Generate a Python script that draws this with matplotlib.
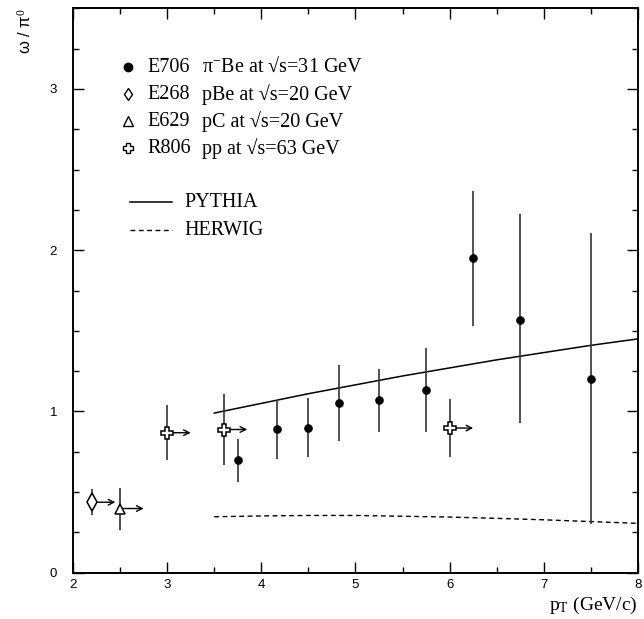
import matplotlib
matplotlib.use("Agg")
from matplotlib import pyplot as plt
from matplotlib.ticker import MultipleLocator

plt.rcParams['mathtext.fontset'] = 'custom'
plt.rcParams['mathtext.rm'] = 'Liberation Serif'
plt.rcParams['mathtext.it'] = 'Liberation Serif:italic'

# E706 pi- Be, sqrt(s)=31 GeV
e706_x = [3.75, 4.17, 4.5, 4.83, 5.25, 5.75, 6.25, 6.75, 7.5]
e706_y = [0.70, 0.89, 0.90, 1.05, 1.07, 1.13, 1.95, 1.57, 1.20]
e706_lo = [0.565, 0.708, 0.717, 0.814, 0.872, 0.872, 1.532, 0.93, 0.305]
e706_hi = [0.829, 1.068, 1.083, 1.288, 1.265, 1.394, 2.364, 2.222, 2.108]

# lower limits in pT (arrows)
e268_x, e268_y, e268_lo, e268_hi = [2.2], [0.437], [0.36], [0.518]
e629_x, e629_y, e629_lo, e629_hi = [2.5], [0.398], [0.267], [0.528]
r806_x = [3.0, 3.6, 6.0]
r806_y = [0.868, 0.888, 0.897]
r806_lo = [0.70, 0.669, 0.72]
r806_hi = [1.037, 1.108, 1.077]
arrow_len = 0.25

# models
pythia_x = [3.5, 4.0, 4.5, 5.0, 5.5, 6.0, 6.5, 7.0, 7.5, 8.0]
pythia_y = [0.99, 1.05, 1.11, 1.165, 1.22, 1.27, 1.32, 1.365, 1.41, 1.45]
herwig_x = [3.5, 4.0, 4.5, 5.0, 5.5, 6.0, 6.5, 7.0, 7.5, 8.0]
herwig_y = [0.347, 0.352, 0.355, 0.355, 0.350, 0.345, 0.337, 0.328, 0.317, 0.306]

fig = plt.figure(figsize=(6.44, 6.19), dpi=100)
ax = fig.add_axes([73/644, 46.3/619, 565/644, 564.4/619])

serif = ['Liberation Serif', 'DejaVu Serif']
sans = ['Liberation Sans', 'DejaVu Sans']
fs = 14.5

# model curves
ax.plot(pythia_x, pythia_y, color='black', lw=1.1)
ax.plot(herwig_x, herwig_y, color='black', lw=1.0, dashes=(3.5, 2.5))


def errs(y, lo, hi):
    return [[a - b for a, b in zip(y, lo)], [c - a for a, c in zip(y, hi)]]


ax.errorbar(e706_x, e706_y, yerr=errs(e706_y, e706_lo, e706_hi), fmt='o',
            color='black', ecolor='#333333', ms=5.2, elinewidth=1.2, capsize=0)

def lim_points(x, y, lo, hi, marker, ms):
    ax.errorbar(x, y, yerr=errs(y, lo, hi), fmt='none', ecolor='#333333',
                elinewidth=1.2, capsize=0, zorder=2)
    for xi, yi in zip(x, y):
        ax.annotate('', xy=(xi + arrow_len, yi), xytext=(xi, yi),
                    arrowprops=dict(arrowstyle='->', color='black', lw=1.0,
                                    shrinkA=0, shrinkB=0), zorder=2)
    ax.plot(x, y, linestyle='none', marker=marker, ms=ms, mfc='white',
            mec='black', mew=1.1, zorder=3)

lim_points(e268_x, e268_y, e268_lo, e268_hi, 'd', 9)
lim_points(e629_x, e629_y, e629_lo, e629_hi, '^', 7)
lim_points(r806_x, r806_y, r806_lo, r806_hi, 'P', 9)

# legend drawn by hand
rows = [('o', 'black', 6, 'E706', 'π$^{-}$Be at √s=31 GeV'),
        ('d', 'white', 6, 'E268', 'pBe at √s=20 GeV'),
        ('^', 'white', 7, 'E629', 'pC at √s=20 GeV'),
        ('P', 'white', 7, 'R806', 'pp at √s=63 GeV')]
row_y = [0.8955, 0.8477, 0.7999, 0.752]
for (m, fc, ms, name, desc), yy in zip(rows, row_y):
    ax.plot([0.097], [yy], marker=m, ms=ms, mfc=fc, mec='black', mew=1.0,
            transform=ax.transAxes, linestyle='none')
    ax.text(0.131, yy, name, transform=ax.transAxes, va='center',
            fontsize=fs, family=serif)
    ax.text(0.228, yy, desc, transform=ax.transAxes, va='center',
            fontsize=fs, family=serif)

ax.plot([0.101, 0.175], [0.656, 0.656], color='black', lw=1.1,
        transform=ax.transAxes)
ax.text(0.198, 0.656, 'PYTHIA', transform=ax.transAxes, va='center',
        fontsize=fs, family=serif)
ax.plot([0.101, 0.175], [0.607, 0.607], color='black', lw=1.0,
        dashes=(3.5, 2.5), transform=ax.transAxes)
ax.text(0.198, 0.607, 'HERWIG', transform=ax.transAxes, va='center',
        fontsize=fs, family=serif)

ax.set_xlim(2, 8)
ax.set_ylim(0, 3.5)
ax.xaxis.set_major_locator(MultipleLocator(1))
ax.xaxis.set_minor_locator(MultipleLocator(0.5))
ax.yaxis.set_major_locator(MultipleLocator(1))
ax.yaxis.set_minor_locator(MultipleLocator(0.25))
ax.tick_params(which='both', direction='in', top=True, right=True, width=1.0)
ax.tick_params(which='major', length=8, labelsize=9.5)
ax.tick_params(axis='x', which='major', pad=4.5)
ax.tick_params(axis='y', which='major', pad=11.5)
ax.tick_params(which='minor', length=4.5)
for lab in ax.get_xticklabels() + ax.get_yticklabels():
    lab.set_family(sans)
for s in ax.spines.values():
    s.set_linewidth(1.4)

ax.set_xlabel('p$_{\\mathrm{T}}$ (GeV/c)', loc='right', fontsize=14,
              family=serif, labelpad=3)
ax.set_ylabel('ω / π$^{0}$', loc='top', fontsize=12, family=sans)
ax.yaxis.set_label_coords(-0.069, 1.0)

fig.savefig('out.png', dpi=100)
